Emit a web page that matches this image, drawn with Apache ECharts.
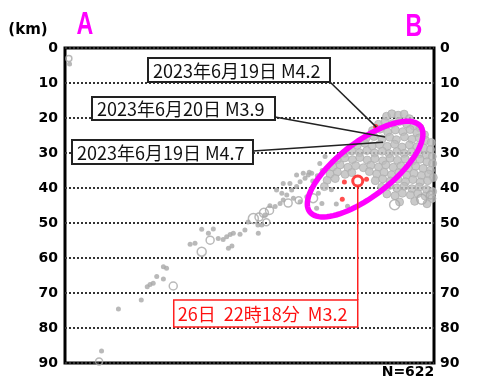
<!DOCTYPE html>
<html>
<head>
<meta charset="utf-8">
<script src="https://cdn.jsdelivr.net/npm/echarts@6/dist/echarts.min.js"></script>
<style>
  html, body { margin: 0; padding: 0; background: #fff; }
  #c { width: 481px; height: 383px; }
</style>
</head>
<body>
<div id="c"></div>
<script>
// Depth axis ticks (km), shown on both sides of the cross-section
const depthTicks = [0, 10, 20, 30, 40, 50, 60, 70, 80, 90];

// Horizontal distance along A-B (km) and depth (km) of each hypocentre
// Small scattered events (filled dots)
const smallDots = [
  [1.3, 4.6], [10.4, 86.6], [15.2, 74.6], [21.7, 72.0], [23.4, 68.2], [24.2, 67.6],
  [25.1, 67.2], [26.1, 65.3], [28.0, 66.0], [28.0, 62.5], [28.9, 62.9], [35.6, 56.1],
  [37.0, 55.8], [38.9, 51.8], [40.8, 52.9], [42.2, 51.7], [43.6, 54.4], [45.0, 54.7],
  [46.0, 53.9], [47.0, 53.3], [47.9, 52.9], [49.8, 53.2], [46.5, 57.2], [47.5, 56.6],
  [55.0, 52.9], [54.9, 50.6], [52.1, 49.7], [51.2, 52.0],
  [58.3, 45.1], [59.8, 45.3], [61.2, 44.4], [62.1, 43.4], [61.7, 41.5], [63.1, 42.0],
  [64.5, 40.6], [65.9, 39.6], [66.9, 38.2], [68.3, 37.2], [69.2, 36.3], [70.2, 35.8],
  [64.0, 38.7], [65.0, 42.9], [66.9, 43.9], [68.8, 42.5], [72.1, 41.5], [73.1, 44.4],
  [71.6, 45.8], [60.2, 40.6], [62.1, 38.7], [65.9, 36.3], [67.8, 35.8], [56.9, 47.7],
  [56.0, 50.6], [72.5, 33.0], [74.0, 31.0], [71.8, 36.5], [73.2, 35.0], [70.5, 38.0],
  [69.5, 35.5], [75.8, 40.5], [77.2, 44.6], [80.4, 45.2]
];

// Larger events drawn as open circles: [distance, depth, symbol size]
const openCircles = [
  [1.1, 3.0, 6], [9.7, 89.6, 7], [30.8, 68.0, 8], [38.9, 58.2, 9], [41.3, 54.9, 8],
  [53.6, 48.7, 10], [55.2, 48.3, 8], [56.6, 47.1, 9], [58.2, 46.4, 8], [57.3, 49.8, 7],
  [63.5, 44.3, 8], [66.5, 43.5, 7], [70.6, 42.9, 9], [93.8, 44.8, 10], [101.5, 43.2, 10],
  [104.0, 42.0, 8]
];

// Dense swarm beneath B
const swarm = [
  [91.5, 19.5], [93.0, 18.8], [94.8, 19.2], [96.5, 18.9], [98.0, 20.2],
  [89.2, 21.8], [91.0, 21.2], [93.2, 21.6], [95.1, 21.0], [97.2, 21.7], [99.3, 22.3], [101.0, 22.8],
  [87.5, 23.6], [89.6, 23.2], [91.8, 24.0], [94.0, 23.4], [96.1, 23.9], [98.2, 23.3], [100.1, 24.2], [102.3, 24.8],
  [85.6, 25.9], [87.9, 25.3], [90.2, 26.0], [92.4, 25.5], [94.3, 26.2], [96.6, 25.4], [98.7, 26.1], [100.8, 25.7], [102.6, 26.4], [104.2, 27.0],
  [83.2, 27.8], [85.3, 27.2], [87.4, 28.0], [89.5, 27.6], [91.7, 28.1], [93.8, 27.5], [95.9, 28.3], [98.0, 27.7], [100.2, 28.2], [102.1, 28.6], [104.0, 29.0],
  [79.5, 30.1], [81.6, 29.4], [83.8, 29.9], [85.9, 29.3], [88.1, 30.0], [90.3, 29.5], [92.2, 30.2], [94.4, 29.6], [96.5, 30.1], [98.6, 29.7], [100.7, 30.3], [102.8, 30.6], [104.5, 31.0],
  [77.4, 32.0], [79.6, 31.4], [81.8, 31.9], [83.9, 31.3], [86.0, 32.0], [88.2, 31.6], [90.4, 32.2], [92.5, 31.5], [94.6, 32.1], [96.8, 31.7], [98.9, 32.3], [101.0, 31.8], [103.0, 32.5], [104.6, 33.0],
  [76.2, 34.0], [78.3, 33.4], [80.5, 34.1], [82.7, 33.6], [84.9, 34.2], [87.0, 33.5], [89.2, 34.0], [91.3, 33.4], [93.4, 34.1], [95.6, 33.7], [97.7, 34.3], [99.8, 33.8], [101.9, 34.4], [104.0, 34.9],
  [75.4, 36.0], [77.5, 35.4], [79.7, 36.1], [81.6, 35.6], [86.6, 35.3], [88.7, 36.0], [90.8, 35.5], [92.9, 36.2], [95.0, 35.6], [97.2, 36.3], [99.3, 35.8], [101.4, 36.4], [103.5, 36.0], [104.8, 37.0],
  [74.6, 37.8], [76.9, 37.3], [88.3, 37.9], [90.4, 37.4], [92.6, 38.0], [94.7, 37.5], [96.9, 38.2], [99.0, 37.6], [101.1, 38.3], [103.2, 37.9],
  [73.8, 39.6], [90.1, 39.8], [92.3, 39.3], [94.4, 40.0], [96.5, 39.5], [98.7, 40.2], [100.8, 39.7], [102.9, 40.4], [104.6, 41.0],
  [91.6, 41.7], [93.9, 42.2], [96.0, 41.5], [98.3, 42.0], [100.4, 41.6], [102.5, 42.3], [104.4, 43.0],
  [95.2, 44.0], [99.5, 43.8], [103.0, 44.5]
];

// Events in the period shown in red
const redDots = [[79.5, 38.3], [78.9, 43.2], [85.8, 37.5], [88.4, 22.4]];
const mainShock = [83.3, 38.0];
const mainShockLabel = '26日  22時18分  M3.2';

// Earlier notable events and their labels
const notedLabels = ['2023年6月19日 M4.2', '2023年6月20日 M3.9', '2023年6月19日 M4.7'];
const notedPoints = [[88.6, 22.6], [91.1, 25.4], [90.5, 26.9]];

// Centre of the swarm outline
const swarmCentre = [85.4, 34.6];
const eventCount = 622;

const chart = echarts.init(document.getElementById('c'), null, { renderer: 'canvas' });

const axisLabelStyle = {
  color: '#000', fontSize: 14, fontWeight: 'bold', fontFamily: 'DejaVu Sans',
  formatter: v => (depthTicks.includes(v) ? String(v) : '')
};

chart.setOption({
  animation: false,
  backgroundColor: '#fff',
  grid: { left: 65, right: 47, top: 48, bottom: 20, show: true, borderColor: '#000', borderWidth: 3 },
  xAxis: { type: 'value', min: 0, max: 105, show: false },
  yAxis: [
    {
      type: 'value', inverse: true, min: 0, max: 90, interval: 10, position: 'left',
      axisLine: { show: false }, axisTick: { show: false },
      axisLabel: Object.assign({ margin: 7 }, axisLabelStyle),
      splitLine: { show: true, lineStyle: { color: '#333', width: 2, type: [2, 2] } }
    },
    {
      type: 'value', inverse: true, min: 0, max: 90, interval: 10, position: 'right',
      axisLine: { show: false }, axisTick: { show: false },
      axisLabel: Object.assign({ margin: 6 }, axisLabelStyle),
      splitLine: { show: false }
    }
  ],
  series: [
    {
      type: 'scatter', data: swarm, symbolSize: 8, z: 2,
      itemStyle: { color: '#bdbdbd', borderColor: '#b0b0b0', borderWidth: 1 }
    },
    {
      type: 'scatter', data: smallDots, symbolSize: 5, z: 2,
      itemStyle: { color: '#a8a8a8' }
    },
    {
      type: 'scatter', data: openCircles, symbolSize: d => d[2], z: 3,
      itemStyle: { color: 'rgba(255,255,255,0)', borderColor: '#a8a8a8', borderWidth: 1.5 }
    },
    {
      type: 'scatter', data: redDots, symbolSize: 5, z: 4,
      itemStyle: { color: '#ff2020' }
    },
    {
      type: 'scatter', data: [mainShock], symbolSize: 10, z: 5,
      itemStyle: { color: '#fff', borderColor: '#ff1010', borderWidth: 3 }
    }
  ]
});

const toPx = p => chart.convertToPixel({ xAxisIndex: 0, yAxisIndex: 0 }, p);

// Label boxes: position, size and the corner where the leader line leaves
const boxes = [
  { x: 148, y: 58, w: 182, h: 24, from: [330, 82] },
  { x: 92, y: 97, w: 183, h: 23, from: [275, 117] },
  { x: 72, y: 140, w: 181, h: 24, from: [253, 151] }
];

const g = [];
boxes.forEach((b, i) => {
  const end = toPx(notedPoints[i]);
  g.push({
    type: 'line', z: 20,
    shape: { x1: b.from[0], y1: b.from[1], x2: end[0], y2: end[1] },
    style: { stroke: '#222', lineWidth: 1.5 }
  });
  g.push({
    type: 'rect', z: 21,
    shape: { x: b.x, y: b.y, width: b.w, height: b.h },
    style: { fill: '#fff', stroke: '#222', lineWidth: 2 }
  });
  g.push({
    type: 'text', z: 22, x: b.x + 5, y: b.y + b.h / 2 + 1,
    style: { text: notedLabels[i], fill: '#111', font: '18px "Noto Sans CJK JP"', textAlign: 'left', textVerticalAlign: 'middle' }
  });
});

// Outline around the swarm
const c = toPx(swarmCentre);
const ra = 70, rb = 27, rot = -37.7 * Math.PI / 180;
const ring = [];
for (let k = 0; k < 90; k++) {
  const t = k / 90 * Math.PI * 2;
  const ex = ra * Math.cos(t), ey = rb * Math.sin(t);
  ring.push([c[0] + ex * Math.cos(rot) - ey * Math.sin(rot), c[1] + ex * Math.sin(rot) + ey * Math.cos(rot)]);
}
g.push({
  type: 'polygon', z: 15, shape: { points: ring },
  style: { fill: 'none', stroke: '#ff00ff', lineWidth: 5.5 }
});

// Leader from the 26th event down to its label
const m = toPx(mainShock);
const rbx = { w: 184, h: 27, top: 300 };
g.push({
  type: 'line', z: 16,
  shape: { x1: m[0], y1: m[1] + 5, x2: m[0], y2: rbx.top },
  style: { stroke: '#ff2020', lineWidth: 1.5 }
});
g.push({
  type: 'rect', z: 21,
  shape: { x: m[0] - rbx.w, y: rbx.top, width: rbx.w, height: rbx.h },
  style: { fill: '#fff', stroke: '#ff2020', lineWidth: 1.5 }
});
g.push({
  type: 'text', z: 22, x: m[0] - rbx.w + 4, y: rbx.top + rbx.h / 2 + 1,
  style: { text: mainShockLabel, fill: '#ff1010', font: '18px "Noto Sans CJK JP"', textAlign: 'left', textVerticalAlign: 'middle' }
});

// End-point letters and captions
g.push({
  type: 'text', z: 22, x: 85, y: 25, scaleX: 0.75,
  style: { text: 'A', fill: '#ff00ff', font: 'bold 31px "Liberation Sans"', textAlign: 'center', textVerticalAlign: 'middle' }
});
g.push({
  type: 'text', z: 22, x: 414, y: 27, scaleX: 0.75,
  style: { text: 'B', fill: '#ff00ff', font: 'bold 31px "Liberation Sans"', textAlign: 'center', textVerticalAlign: 'middle' }
});
g.push({
  type: 'text', z: 22, x: 28, y: 30,
  style: { text: '(km)', fill: '#000', font: 'bold 15px "DejaVu Sans"', textAlign: 'center', textVerticalAlign: 'middle' }
});
g.push({
  type: 'text', z: 22, x: 408, y: 372,
  style: { text: 'N=' + eventCount, fill: '#000', font: 'bold 14px "DejaVu Sans"', textAlign: 'center', textVerticalAlign: 'middle' }
});

chart.setOption({ graphic: { elements: g } });
</script>
</body>
</html>
